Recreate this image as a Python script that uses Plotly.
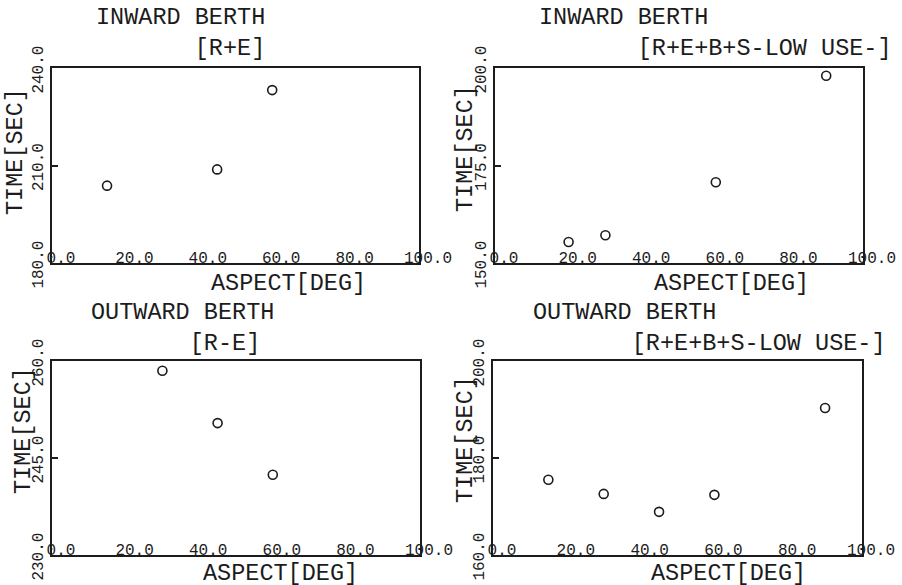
import plotly.graph_objects as go

# ---- data ----
aspect_in_re = [15, 45, 60]
time_in_re = [203.8, 208.8, 233.2]

aspect_in_all = [20, 30, 60, 90]
time_in_all = [155.4, 157.1, 170.7, 198.0]

aspect_out_re = [30, 45, 60]
time_out_re = [258.5, 250.4, 242.4]

aspect_out_all = [15, 30, 45, 60, 90]
time_out_all = [175.5, 172.6, 168.9, 172.4, 190.3]

x_tickvals = [0, 20, 40, 60, 80, 100]
x_ticktext = ["0.0", "20.0", "40.0", "60.0", "80.0", "100.0"]

y_ticks_in_re = [180, 210, 240]
y_ticks_in_all = [150, 175, 200]
y_ticks_out_re = [230, 245, 260]
y_ticks_out_all = [160, 180, 200]

titles = [("INWARD BERTH", "[R+E]"),
          ("INWARD BERTH", "[R+E+B+S-LOW USE-]"),
          ("OUTWARD BERTH", "[R-E]"),
          ("OUTWARD BERTH", "[R+E+B+S-LOW USE-]")]
x_title = "ASPECT[DEG]"
y_title = "TIME[SEC]"

INK = "#1c1c1c"
FONT = "Liberation Mono"
W, H = 902, 585

fig = go.Figure()

panels = [
    (aspect_in_re, time_in_re, y_ticks_in_re),
    (aspect_in_all, time_in_all, y_ticks_in_all),
    (aspect_out_re, time_out_re, y_ticks_out_re),
    (aspect_out_all, time_out_all, y_ticks_out_all),
]

# panel boxes in pixels: left, right, top, bottom
boxes = [(52, 419, 68, 263), (495, 863, 68, 263),
         (52, 420, 361, 555), (493, 862, 361, 555)]

for i, (xs, ys, yt) in enumerate(panels):
    n = "" if i == 0 else str(i + 1)
    fig.add_trace(go.Scatter(
        x=xs, y=ys, mode="markers", xaxis="x" + n, yaxis="y" + n,
        marker=dict(symbol="circle-open", size=9, color=INK, line=dict(width=1.6, color=INK)),
        showlegend=False, hoverinfo="x+y"))
    l, r, t, b = boxes[i]
    fig.update_layout(**{
        "xaxis" + n: dict(
            domain=[l / W, r / W], anchor="y" + n, range=[0, 100],
            tickvals=x_tickvals, ticktext=x_ticktext,
            ticklabelposition="inside", ticklabelshift=9, ticklabelstandoff=-3,
            ticklabeloverflow="allow", automargin=False,
            ticks="", showgrid=False, zeroline=False,
            showline=True, mirror=True, linecolor=INK, linewidth=2,
            tickfont=dict(family=FONT, size=16, color=INK)),
        "yaxis" + n: dict(
            domain=[1 - b / H, 1 - t / H], anchor="x" + n, range=[yt[0], yt[-1]],
            tickvals=yt, ticktext=[f"{v:.1f}" for v in yt],
            tickangle=-90, ticklabelshift=4, ticklabelstandoff=1,
            ticklabeloverflow="allow", automargin=False,
            ticks="inside", ticklen=6, tickcolor=INK, tickwidth=1.5,
            showgrid=False, zeroline=False,
            showline=True, mirror=True, linecolor=INK, linewidth=2,
            tickfont=dict(family=FONT, size=16, color=INK)),
    })

ann = []
def text(s, px, py, angle=0, xanchor="left", height=None):
    ann.append(dict(text=s, x=px / W, y=1 - py / H, xref="paper", yref="paper",
                    xanchor=xanchor, yanchor="middle", showarrow=False, textangle=angle,
                    align="left", height=height, borderpad=0,
                    font=dict(family=FONT, size=23.5, color=INK)))

NB = "\u00a0"
title_pos = [(95, 33), (538, 33), (90, 328), (532, 328)]
for (t1, t2), (ax, ay) in zip(titles, title_pos):
    text(t1 + "<br>" + NB * 7 + t2, ax, ay)

for px, py in [(210, 283), (653, 283), (202, 573), (650, 573)]:
    text(x_title, px, py, height=24)
for px, py in [(16, 152), (465, 149), (23, 431), (465, 440)]:
    text(y_title, px, py, angle=-90, xanchor="center")

fig.update_layout(
    width=W, height=H, margin=dict(l=0, r=0, t=0, b=0),
    paper_bgcolor="white", plot_bgcolor="white",
    annotations=ann, font=dict(family=FONT, color=INK))

fig.write_html("out.html")
